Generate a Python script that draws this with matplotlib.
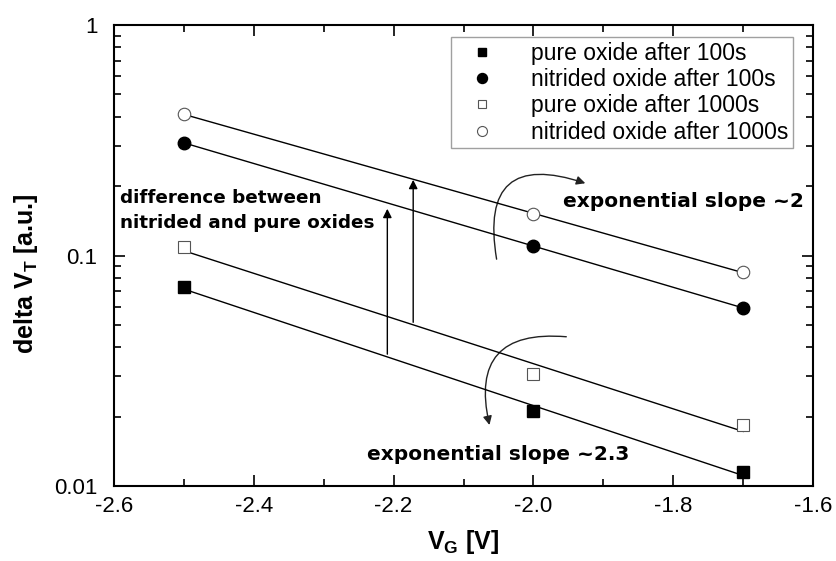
import matplotlib.pyplot as plt
from matplotlib.patches import FancyArrowPatch
import numpy as np

plt.rcParams['font.family'] = ['Liberation Sans', 'DejaVu Sans']
plt.rcParams['mathtext.fontset'] = 'custom'
plt.rcParams['mathtext.rm'] = 'Liberation Sans:bold'
plt.rcParams['mathtext.bf'] = 'Liberation Sans:bold'
plt.rcParams['mathtext.it'] = 'Liberation Sans:bold'

# gate voltages [V]
vg = [-2.5, -2.0, -1.7]

# delta VT [a.u.]
pure_100 = [0.073, 0.0211, 0.0115]
nitr_100 = [0.308, 0.110, 0.0592]
pure_1000 = [0.109, 0.0306, 0.0184]
nitr_1000 = [0.411, 0.151, 0.0847]

labels = ['pure oxide after 100s', 'nitrided oxide after 100s',
          'pure oxide after 1000s', 'nitrided oxide after 1000s']

fig = plt.figure(figsize=(8.36, 5.61), dpi=100)
ax = fig.add_axes([0.1364, 0.1337, 0.8361, 0.8217])

series = [pure_100, nitr_100, pure_1000, nitr_1000]
styles = [dict(marker='s', mfc='black', mec='black', ms=8),
          dict(marker='o', mfc='black', mec='black', ms=9),
          dict(marker='s', mfc='white', mec='#555555', ms=8, mew=0.8),
          dict(marker='o', mfc='white', mec='#555555', ms=9, mew=0.8)]

x = np.array(vg)
for yy, st, lab in zip(series, styles, labels):
    # exponential fit lines
    k, b = np.polyfit(x, np.log10(yy), 1)
    xf = np.array([x[0], x[-1]])
    ax.plot(xf, 10 ** (k * xf + b), color='black', lw=1.0, zorder=2)
    ax.plot(x, yy, ls='none', label=lab, zorder=3, **st)

ax.set_yscale('log')
ax.set_xlim(-2.6, -1.6)
ax.set_ylim(0.01, 1)
ax.set_xticks([-2.6, -2.4, -2.2, -2.0, -1.8, -1.6])
ax.set_xticks(np.arange(-2.5, -1.6, 0.2), minor=True)
ax.set_xticklabels(['-2.6', '-2.4', '-2.2', '-2.0', '-1.8', '-1.6'])
ax.set_yticks([0.01, 0.1, 1])
ax.set_yticklabels(['0.01', '0.1', '1'])
ax.tick_params(which='both', direction='in', top=True, right=True,
               labelsize=16, width=1.2)
ax.tick_params(which='major', length=8)
ax.tick_params(which='minor', length=5)
ax.tick_params(axis='x', which='major', pad=7)
ax.tick_params(axis='y', which='major', pad=12)
for sp in ax.spines.values():
    sp.set_linewidth(1.5)

ax.set_xlabel(r'V$_{\mathbf{G}}$ [V]', fontsize=18, fontweight='bold',
              labelpad=8)
ax.set_ylabel(r'delta V$_{\mathbf{T}}$ [a.u.]', fontsize=18,
              fontweight='bold')
ax.yaxis.set_label_coords(-0.106, 0.46)

leg = ax.legend(loc='upper right', bbox_to_anchor=(0.971, 0.974),
                borderaxespad=0, fontsize=16.5, fancybox=False,
                edgecolor='#888888', handletextpad=0.95, labelspacing=0.15,
                borderpad=0.2, handlelength=2.35, markerscale=0.8)
leg.get_frame().set_linewidth(1.0)

# annotations
ax.text(-2.591, 0.156, 'difference between\nnitrided and pure oxides',
        family='DejaVu Sans', fontweight='bold', fontsize=13.2, va='center',
        linespacing=1.5)
ax.annotate('', xy=(-2.209, 0.164), xytext=(-2.209, 0.0363),
            arrowprops=dict(arrowstyle='-|>', color='black', lw=1.0,
                            mutation_scale=13))
ax.annotate('', xy=(-2.172, 0.219), xytext=(-2.172, 0.0499),
            arrowprops=dict(arrowstyle='-|>', color='black', lw=1.0,
                            mutation_scale=13))

ax.text(-1.958, 0.171, 'exponential slope ~2', family='DejaVu Sans',
        fontweight='bold', fontsize=14.5, va='center')
ax.text(-2.238, 0.0137, 'exponential slope ~2.3', family='DejaVu Sans',
        fontweight='bold', fontsize=14.5, va='center')

ax.add_patch(FancyArrowPatch((-2.052, 0.0938), (-1.922, 0.204),
                             connectionstyle='arc3,rad=-0.85',
                             arrowstyle='-|>', mutation_scale=13,
                             color='#222222', lw=1.0))
ax.add_patch(FancyArrowPatch((-1.949, 0.0443), (-2.062, 0.0179),
                             connectionstyle='arc3,rad=0.7',
                             arrowstyle='-|>', mutation_scale=13,
                             color='#222222', lw=1.0))

fig.savefig('out.png', dpi=100)
